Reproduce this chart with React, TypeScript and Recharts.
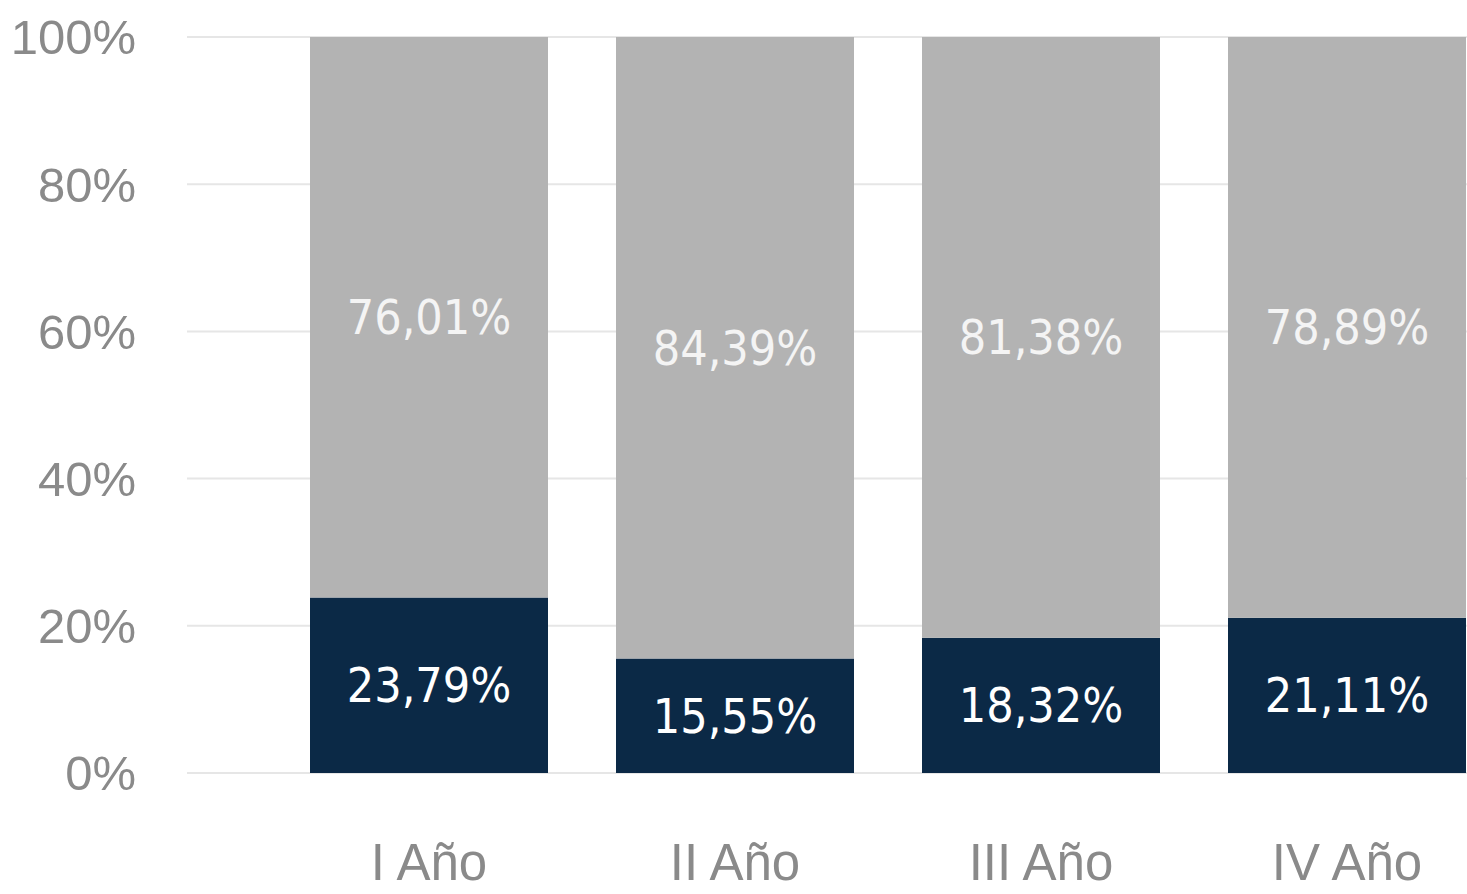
import React from 'react';
import {
  BarChart,
  Bar,
  XAxis,
  YAxis,
  CartesianGrid,
  LabelList,
} from 'recharts';

const years = ['I Año', 'II Año', 'III Año', 'IV Año'];
const darkShare = [23.79, 15.55, 18.32, 21.11];
const grayShare = [76.01, 84.39, 81.38, 78.89];
const yTicks = [0, 0.2, 0.4, 0.6, 0.8, 1];

const data = years.map((year, i) => ({
  year,
  dark: darkShare[i],
  gray: grayShare[i],
}));

const yFont = {
  fontFamily: '"Liberation Sans", Arial, sans-serif',
  fontSize: 49,
  fill: '#8a8a8a',
};

const xFont = { ...yFont, fontSize: 51 };

const formatPct = (v: unknown) => {
  const n = Array.isArray(v) ? Number(v[1]) - Number(v[0]) : Number(v);
  return `${n.toFixed(2).replace('.', ',')}%`;
};

const labelFont = {
  fontFamily: '"DejaVu Sans Condensed", "DejaVu Sans", sans-serif',
  fontSize: 48,
};

export default function App() {
  return (
    <div
      style={{
        position: 'fixed',
        left: 0,
        top: 0,
        width: 1467,
        height: 894,
        overflow: 'hidden',
        background: '#ffffff',
      }}
    >
      <BarChart
        width={1520}
        height={894}
        data={data}
        stackOffset="expand"
        margin={{ top: 37, right: 20, bottom: 0, left: 0 }}
      >
        <CartesianGrid vertical={false} stroke="#e6e6e6" strokeWidth={2} />
        <XAxis
          dataKey="year"
          axisLine={false}
          tickLine={false}
          tickSize={0}
          tickMargin={71}
          height={121}
          padding={{ left: 89, right: 0 }}
          tick={xFont}
          interval={0}
        />
        <YAxis
          width={187}
          domain={[0, 1]}
          ticks={yTicks}
          axisLine={false}
          tickLine={false}
          tickSize={0}
          tickMargin={51}
          tick={yFont}
          tickFormatter={(v: number) => `${Math.round(v * 100)}%`}
        />
        <Bar
          dataKey="dark"
          stackId="a"
          fill="#0b2946"
          barSize={238}
          isAnimationActive={false}
        >
          <LabelList
            dataKey="dark"
            position="center"
            formatter={formatPct}
            style={{ ...labelFont, fill: '#ffffff' }}
          />
        </Bar>
        <Bar
          dataKey="gray"
          stackId="a"
          fill="#b3b3b3"
          barSize={238}
          isAnimationActive={false}
        >
          <LabelList
            dataKey="gray"
            position="center"
            formatter={formatPct}
            style={{ ...labelFont, fill: '#f4f4f4' }}
          />
        </Bar>
      </BarChart>
    </div>
  );
}
